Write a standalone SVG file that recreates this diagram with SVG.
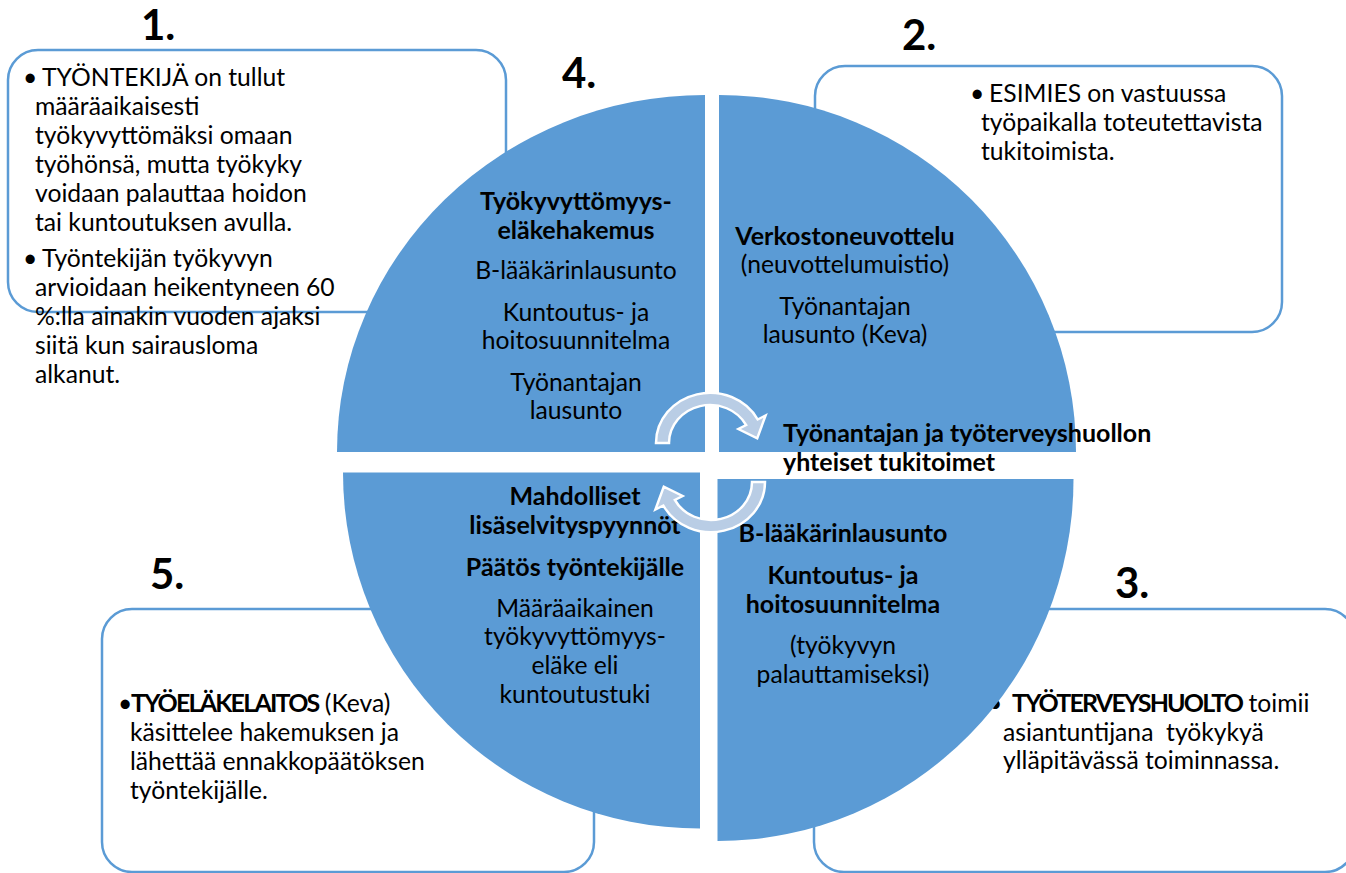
<svg xmlns="http://www.w3.org/2000/svg" width="1346" height="873" viewBox="0 0 1346 873">
<style>
text{font-family:Lato,"Liberation Sans",sans-serif;font-size:24.7px;fill:#000}
.b{font-weight:bold;font-size:25px}
.caps{letter-spacing:-1.8px}
.num{font-size:42px;font-weight:bold}
.c{text-anchor:middle}
.box{fill:#fff;stroke:#5B9BD5;stroke-width:2.5}
.q{fill:#5B9BD5}
.arr{fill:#B9CDE5;stroke:#fff;stroke-width:2.5}
</style>
<defs>
<path id="carrow" d="M -54 0 A 54 54 0 0 1 47.7 -25.3 L 55.6 -29.6 L 47.2 -5 L 28.3 -15 L 36.2 -19.2 A 41 41 0 0 0 -41 0 Z"/>
</defs>
<rect width="1346" height="873" fill="#fff"/>

<g id="box1">
<rect class="box" x="8" y="50" width="498" height="262" rx="30"/>
<text class="num" x="141" y="40">1.</text>
<text x="23" y="86">•</text>
<text x="42" y="86">TYÖNTEKIJÄ on tullut</text>
<text x="35" y="115">määräaikaisesti</text>
<text x="35" y="144">työkyvyttömäksi omaan</text>
<text x="35" y="173">työhönsä, mutta työkyky</text>
<text x="35" y="202">voidaan palauttaa hoidon</text>
<text x="35" y="231">tai kuntoutuksen avulla.</text>
<text x="23" y="267">•</text>
<text x="42" y="267">Työntekijän työkyvyn</text>
<text x="35" y="296">arvioidaan heikentyneen 60</text>
<text x="35" y="325">%:lla ainakin vuoden ajaksi</text>
<text x="35" y="354">siitä kun sairausloma</text>
<text x="35" y="383">alkanut.</text>
</g>

<g id="box2">
<rect class="box" x="815" y="66" width="467" height="266" rx="30"/>
<text class="num" x="902" y="50">2.</text>
<text x="970" y="102">•</text>
<text x="989" y="102">ESIMIES on vastuussa</text>
<text x="981" y="131">työpaikalla toteutettavista</text>
<text x="981" y="160">tukitoimista.</text>
</g>

<g id="box3">
<rect class="box" x="814" y="609" width="541" height="263" rx="30"/>
<text class="num" x="1115" y="598">3.</text>
<text x="988" y="712">•</text>
<text x="1012" y="712"><tspan class="b caps">TYÖTERVEYSHUOLTO</tspan> toimii</text>
<text x="1003" y="741" xml:space="preserve">asiantuntijana  työkykyä</text>
<text x="1003" y="769">ylläpitävässä toiminnassa.</text>
</g>

<g id="box5">
<rect class="box" x="102" y="609" width="492" height="263" rx="30"/>
<text class="num" x="150" y="589">5.</text>
<text x="118" y="712">•</text>
<text x="131" y="712"><tspan class="b caps">TYÖELÄKELAITOS</tspan> (Keva)</text>
<text x="130" y="741">käsittelee hakemuksen ja</text>
<text x="130" y="770">lähettää ennakkopäätöksen</text>
<text x="130" y="799">työntekijälle.</text>
</g>

<g id="step4">
<path class="q" d="M 705 452 L 337 452 A 368 357 0 0 1 705 95 Z"/>
<text class="num" x="562" y="88">4.</text>
<text class="c b" x="576" y="210">Työkyvyttömyys-</text>
<text class="c b" x="576" y="239">eläkehakemus</text>
<text class="c" x="576" y="279">B-lääkärinlausunto</text>
<text class="c" x="576" y="321">Kuntoutus- ja</text>
<text class="c" x="576" y="349">hoitosuunnitelma</text>
<text class="c" x="576" y="391">Työnantajan</text>
<text class="c" x="576" y="419">lausunto</text>
</g>

<g id="step2">
<path class="q" d="M 719 452 L 719 95 A 357 357 0 0 1 1076 452 Z"/>
<text class="c b" x="845" y="245">Verkostoneuvottelu</text>
<text class="c" x="845" y="273">(neuvottelumuistio)</text>
<text class="c" x="845" y="315">Työnantajan</text>
<text class="c" x="845" y="343">lausunto (Keva)</text>
</g>

<g id="step5">
<path class="q" d="M 700 472.5 L 700 828.5 A 357 356 0 0 1 343 472.5 Z"/>
<text class="c b" x="575" y="505">Mahdolliset</text>
<text class="c b" x="575" y="534">lisäselvityspyynnöt</text>
<text class="c b" x="575" y="576">Päätös työntekijälle</text>
<text class="c" x="575" y="617">Määräaikainen</text>
<text class="c" x="575" y="645">työkyvyttömyys-</text>
<text class="c" x="575" y="674">eläke eli</text>
<text class="c" x="575" y="703">kuntoutustuki</text>
</g>

<g id="step3">
<path class="q" d="M 717.5 479 L 1073.5 479 A 356 362 0 0 1 717.5 841 Z"/>
<text class="c b" x="843" y="542">B-lääkärinlausunto</text>
<text class="c b" x="843" y="584">Kuntoutus- ja</text>
<text class="c b" x="843" y="613">hoitosuunnitelma</text>
<text class="c" x="843" y="654">(työkyvyn</text>
<text class="c" x="843" y="683">palauttamiseksi)</text>
</g>

<g id="connectors">
<use href="#carrow" class="arr" transform="translate(710,443) scale(1,0.93)"/>
<use href="#carrow" class="arr" transform="translate(711,482) rotate(180) scale(1,0.93)"/>
</g>

<g id="center">
<text class="b" x="783" y="442">Työnantajan ja työterveyshuollon</text>
<text class="b" x="783" y="471">yhteiset tukitoimet</text>
</g>
</svg>
